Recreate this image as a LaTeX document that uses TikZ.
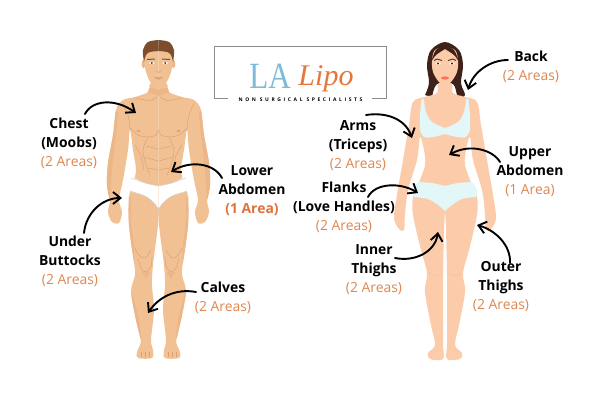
\documentclass[tikz,border=0pt]{standalone}
\usepackage{fontspec}
\usepackage{graphicx}
\usetikzlibrary{arrows.meta,calc}
\setmainfont{Open Sans}
\newfontfamily\logoserif{Liberation Serif}
\newfontfamily\logoitalic{Liberation Serif Italic}
\definecolor{skinM}{HTML}{F1C194}
\definecolor{shadeM}{HTML}{EDB687}
\definecolor{lineM}{HTML}{DBA070}
\definecolor{hairM}{HTML}{7D4E2E}
\definecolor{skinF}{HTML}{FBCBAA}
\definecolor{shadeF}{HTML}{F7BF9C}
\definecolor{hairF}{HTML}{3E2118}
\definecolor{bra}{HTML}{E4F7F8}
\definecolor{accent}{HTML}{DE7237}
\definecolor{soft}{HTML}{DE8750}
\definecolor{logoblue}{HTML}{7DBBD8}
\definecolor{logoorange}{HTML}{E4773C}
\tikzset{
  every node/.style={inner sep=0pt,outer sep=0pt},
  area/.style={font=\fontsize{13.9}{19}\selectfont\bfseries,align=center,text=black},
  pointer/.style={line width=1.9pt,line cap=round,-{Straight Barb[length=7.5pt,width=12pt,line width=1.9pt]},black},
  muscle/.style={draw=lineM,line width=.45pt,line cap=round},
  smoothed/.style={smooth,tension=.55}
}
% One side of each body; the other side is the same path reflected about the centre line
\newcommand{\manhalf}{%
  \fill[skinM] plot[smoothed] coordinates {(158.5,78) (150,84) (148,92) (135,97) (123,100) (116,110) (113,135) (108,163) (107,185) (110,200) (108,212) (112,222) (119,223) (122,212) (119,200) (123,180) (128,150) (130,130) (133,150) (136,170) (133,183) (129,197) (129,225) (134,262) (135,275) (131,292) (136,320) (141,340) (137,352) (138,358) (152,358) (153,350) (151,340) (154,310) (152,285) (153,265) (158,225) (158.5,207)} -- cycle;
  % soft shading along the limbs
  \fill[shadeM] plot[smoothed] coordinates {(116,110) (113,135) (108,163) (107,185) (110,200) (111,185) (113,160) (116,135) (118,112)} -- cycle;
  \fill[shadeM] plot[smoothed] coordinates {(129,197) (129,225) (134,262) (134,245) (131,220) (131,198)} -- cycle;
  \fill[shadeM] plot[smoothed] coordinates {(131,292) (136,320) (141,340) (139,320) (134,300)} -- cycle;
  \fill[shadeM] plot[smoothed] coordinates {(148,92) (150,88) (158.5,90) (158.5,96)} -- cycle;
  % chest, ribs and abdomen
  \draw[muscle] plot[smoothed] coordinates {(130,128) (138,135) (148,137) (156,135) (158.5,130)};
  \draw[muscle] plot[smoothed] coordinates {(123,103) (128,115) (130,128)};
  \draw[muscle] plot[smoothed] coordinates {(148,137) (143,150) (146,165) (150,175)};
  \draw[muscle] (146,146) -- (158,149);
  \draw[muscle] (144,157) -- (158,161);
  \draw[muscle] (148,168) -- (158,170);
  \draw[muscle] (135,145) -- (141,155) -- (144,170);
  \draw[muscle] (135,98) -- (150,101) -- (157,97);
  \fill[lineM] (138.5,131) ellipse (2.2pt and .8pt);
  % knee
  \draw[muscle] plot[smoothed] coordinates {(135,248) (139,255) (145,258) (151,250)};
  \draw[muscle] plot[smoothed] coordinates {(138,258) (141,268) (146,272) (151,266) (152,257)};
  \fill[shadeM] (142,272) -- (150,272) -- (146,279) -- cycle;
  % toes
  \draw[muscle] (141,352) -- (141,357) (145,352) -- (145,357) (149,352) -- (149,357);
  % ear
  \fill[shadeM] (143.5,64) ellipse (1.8pt and 4pt);
  % half of the brief
  \fill[white] plot[smoothed] coordinates {(158.5,186) (145,183) (132,177)} -- (129,191) -- plot[smoothed] coordinates {(129,191) (145,196) (154,203) (158.5,209)} -- cycle;
  \draw[black!18,line width=.5pt] plot[smoothed] coordinates {(131,178) (145,183) (158.5,186)};
  \draw[black!18,line width=.5pt] plot[smoothed] coordinates {(130,191) (145,196) (154,203) (158.5,209)};
}
\newcommand{\manface}{%
  \fill[skinM] plot[smoothed] coordinates {(158.5,45) (146,47) (144,60) (146,72) (151,83) (158.5,87)} -- cycle;
  \fill[white] (151.7,63) ellipse (2.6pt and 1.1pt);
  \fill[hairM!80!black] (151.7,63) circle (1.1pt);
  \draw[hairM,line width=1pt] (147,59.5) -- (155,59);
  \fill[lineM] (158.5,77) -- (154,77.5) -- (158.5,79.8) -- cycle;
  \draw[muscle] (156,71) -- (158.5,72.5);
}
\newcommand{\manhair}{%
  \fill[hairM] plot[smoothed] coordinates {(158.5,40) (148,42) (143,50) (144,62)} -- plot[smoothed] coordinates {(144,62) (146,55) (150,52) (158.5,51)} -- cycle;
}
\newcommand{\womanhalf}{%
  \fill[skinF] plot[smoothed] coordinates {(445,80) (438,84) (437,93) (425,97) (413,102) (409,125) (403,160) (397,195) (394,218) (399,229) (404,230) (405,214) (408,190) (417,160) (420,137) (424,150) (425,165) (418,185) (413,197) (413,215) (421,250) (427,273) (425,292) (431,325) (435,345) (428,353) (430,359) (443,359) (443,345) (443,323) (443,277) (444,230) (445,210)} -- cycle;
  \draw[shadeF,line width=.5pt] plot[smoothed] coordinates {(429,272) (434,276) (441,274)};
  % half of the bra
  \fill[bra] plot[smoothed] coordinates {(424,99) (426,112) (432,122) (445,128)} -- (445,134) -- plot[smoothed] coordinates {(445,134) (433,137) (424,137) (420,130)} -- plot[smoothed] coordinates {(420,130) (420,115) (421.5,99)} -- cycle;
  % half of the panties
  \fill[bra] plot[smoothed] coordinates {(445,186) (432,183) (418,182)} -- plot[smoothed] coordinates {(418,182) (413,190) (414,197)} -- plot[smoothed] coordinates {(414,197) (428,199) (438,205) (445,211)} -- cycle;
}
\newcommand{\womanface}{%
  \fill[skinF] plot[smoothed] coordinates {(445,47) (435,50) (432,60) (433,72) (439,82) (445,85)} -- cycle;
  \fill[hairF] plot[smoothed] coordinates {(445,46) (436,50) (431,62)} -- plot[smoothed] coordinates {(431,62) (436,55) (445,49)} -- cycle;
  \fill[white] (438,63.5) ellipse (2.6pt and 1.1pt);
  \fill[hairF] (438,63.5) circle (1.1pt);
  \draw[hairF,line width=.8pt] (434,60.5) -- (437,59) -- (442,60.5);
}
\begin{document}
\begin{tikzpicture}[x=1pt,y=-1pt]
\useasboundingbox (0,0) rectangle (600,400);
\fill[white] (0,0) rectangle (600,400);

% man
\manhalf
\begin{scope}[xshift=317pt,xscale=-1] \manhalf \end{scope}
\manface
\begin{scope}[xshift=317pt,xscale=-1] \manface \end{scope}
\manhair
\begin{scope}[xshift=317pt,xscale=-1] \manhair \end{scope}

% woman
\fill[hairF] plot[smoothed] coordinates {(425,95) (429,83) (427,65) (431,50) (445,42) (459,50) (463,65) (461,83) (465,95) (458,97) (453,84) (437,84) (432,97)} -- cycle;
\womanhalf
\begin{scope}[xshift=890pt,xscale=-1] \womanhalf \end{scope}
\womanface
\begin{scope}[xshift=890pt,xscale=-1] \womanface \end{scope}
\fill[red!45!skinF] (445,78) ellipse (4pt and 1.6pt);

% logo frame, open behind the tagline
\draw[black!45,line width=.8pt] (228,98) -- (214,98) -- (214,46) -- (386,46) -- (386,98) -- (372,98);
\node (tagline) at (300.5,99.5) {\fontsize{5}{5}\selectfont\bfseries\addfontfeature{LetterSpace=52}NON SURGICAL SPECIALISTS};
\node[anchor=base,text=logoblue] (logoLA) at (270,88) {\scalebox{.84}[1]{\fontsize{37}{37}\logoserif LA}};
\node[anchor=base,text=logoorange] (logoLipo) at (326,85) {\fontsize{30}{30}\logoitalic Lipo};

% labels
\node[area] (chest) at (69,143) {Chest\\(Moobs)\\\mdseries\textcolor{soft}{(2 Areas)}};
\node[area] (abdomen) at (252,191) {Lower\\Abdomen\\\textcolor{accent}{(1 Area)}};
\node[area] (buttocks) at (70,261) {Under\\Buttocks\\\mdseries\textcolor{soft}{(2 Areas)}};
\node[area] (calves) at (223,298) {Calves\\\mdseries\textcolor{soft}{(2 Areas)}};
\node[area] (back) at (531,67) {Back\\\mdseries\textcolor{soft}{(2 Areas)}};
\node[area] (arms) at (358,146) {Arms\\(Triceps)\\\mdseries\textcolor{soft}{(2 Areas)}};
\node[area] (upper) at (530,172) {Upper\\Abdomen\\\mdseries\textcolor{soft}{(1 Area)}};
\node[area] (flanks) at (344,207) {Flanks\\(Love Handles)\\\mdseries\textcolor{soft}{(2 Areas)}};
\node[area] (inner) at (374,270) {Inner\\Thighs\\\mdseries\textcolor{soft}{(2 Areas)}};
\node[area] (outer) at (501,287) {Outer\\Thighs\\\mdseries\textcolor{soft}{(2 Areas)}};

% targets on the bodies
\coordinate (tChest) at (136,113);
\coordinate (tAbdomen) at (171,172);
\coordinate (tButtocks) at (122,198);
\coordinate (tCalves) at (148,313);
\coordinate (tBack) at (468,90);
\coordinate (tArms) at (412,138);
\coordinate (tUpper) at (449,155);
\coordinate (tFlanks) at (418,193);
\coordinate (tInner) at (438,232);
\coordinate (tOuter) at (477,225);

% connector tails, placed relative to their labels
\coordinate (sChest) at ($(chest)+(16,-29)$);
\coordinate (sAbdomen) at ($(abdomen)+(-30,-13)$);
\coordinate (sButtocks) at ($(buttocks)+(14,-28)$);
\coordinate (sCalves) at ($(calves)+(-27,-6)$);
\coordinate (sBack) at ($(back)+(-23,-7)$);
\coordinate (sArms) at ($(arms)+(8,-31)$);
\coordinate (sUpper) at ($(upper)+(-30,-10)$);
\coordinate (sFlanks) at ($(flanks)+(24,-10)$);
\coordinate (sInner) at ($(inner)+(21,-12)$);
\coordinate (sOuter) at ($(outer)+(9,-24)$);

\draw[pointer] (sChest) .. controls (92,100) and (115,98) .. (tChest);
\draw[pointer] (sAbdomen) .. controls (214,163) and (190,160) .. (tAbdomen);
\draw[pointer] (sButtocks) .. controls (86,213) and (102,198) .. (tButtocks);
\draw[pointer] (sCalves) .. controls (175,288) and (158,298) .. (tCalves);
\draw[pointer] (sBack) .. controls (490,60) and (473,72) .. (tBack);
\draw[pointer] (sArms) .. controls (385,112) and (405,118) .. (tArms);
\draw[pointer] (sUpper) .. controls (493,150) and (470,143) .. (tUpper);
\draw[pointer] (sFlanks) .. controls (375,183) and (400,182) .. (tFlanks);
\draw[pointer] (sInner) .. controls (415,262) and (435,252) .. (tInner);
\draw[pointer] (sOuter) .. controls (511,245) and (495,230) .. (tOuter);
\end{tikzpicture}
\end{document}
